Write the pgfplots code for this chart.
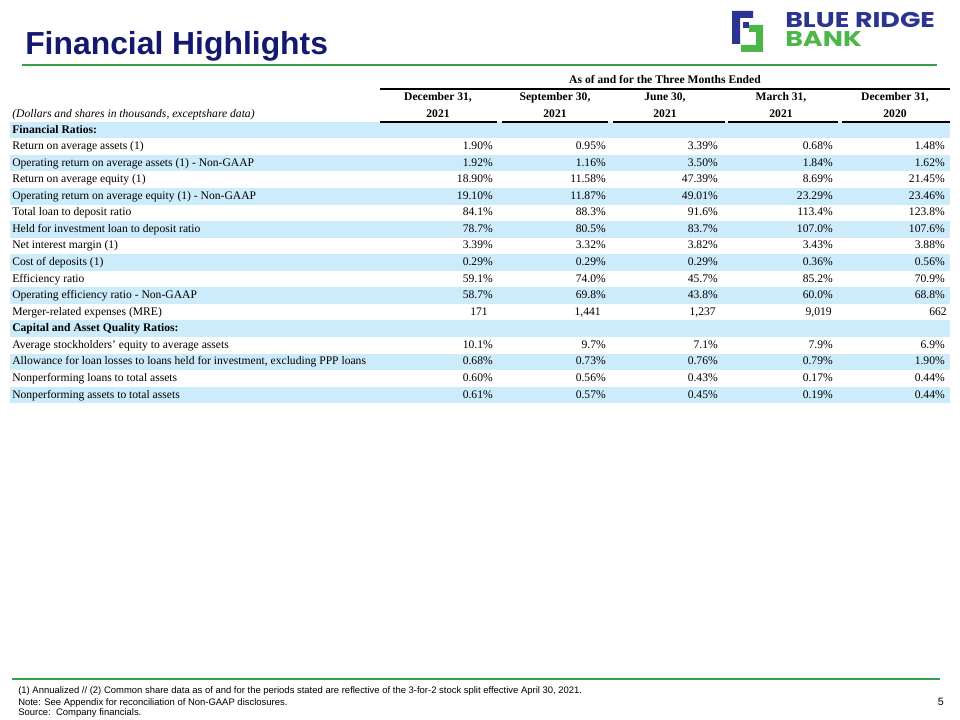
\documentclass[border=0pt]{standalone}
\usepackage{pgfplots}
\pgfplotsset{compat=1.18}
\usepackage{pgfplotstable}
\usepackage{graphicx}
\usepackage{fontspec}
\setmainfont{Liberation Serif}
\newfontfamily\arialfont{Liberation Sans}
\newfontfamily\logofont{Poppins}
\definecolor{band}{RGB}{205,236,251}
\definecolor{titleblue}{RGB}{20,24,110}
\definecolor{lineGreen}{RGB}{52,160,72}
\definecolor{logoblue}{RGB}{44,52,145}
\definecolor{logogreen}{RGB}{77,182,72}
\newcommand\tf{\fontsize{8.7}{9.5}\selectfont}

% Ratios (in percent), rows indexed from the "Financial Ratios:" row = 0
\pgfplotstableread{
r c1 c2 c3 c4 c5
1 1.90 0.95 3.39 0.68 1.48
2 1.92 1.16 3.50 1.84 1.62
3 18.90 11.58 47.39 8.69 21.45
4 19.10 11.87 49.01 23.29 23.46
5 84.1 88.3 91.6 113.4 123.8
6 78.7 80.5 83.7 107.0 107.6
7 3.39 3.32 3.82 3.43 3.88
8 0.29 0.29 0.29 0.36 0.56
9 59.1 74.0 45.7 85.2 70.9
10 58.7 69.8 43.8 60.0 68.8
13 10.1 9.7 7.1 7.9 6.9
14 0.68 0.73 0.76 0.79 1.90
15 0.60 0.56 0.43 0.17 0.44
16 0.61 0.57 0.45 0.19 0.44
}\ratios
% Merger-related expenses (thousands)
\pgfplotstableread{
r c1 c2 c3 c4 c5
11 171 1,441 1,237 9,019 662
}\mre

\begin{document}
\begin{tikzpicture}
\begin{axis}[scale only axis, width=720pt, height=540pt,
  xmin=0, xmax=960, ymin=0, ymax=720, y dir=reverse,
  hide axis, clip=false,
  valstyle/.style={draw=none, mark=none, point meta=explicit symbolic,
    nodes near coords style={anchor=mid east, font=\tf, inner sep=0pt}},
]
\fill[white] (axis cs:0,0) rectangle (axis cs:960,720);
% bands
\pgfplotsinvokeforeach{0,2,4,6,8,10,12,14,16}{
  \fill[band] (axis cs:10,{130+16.56*#1-8.28}) rectangle (axis cs:950,{130+16.56*#1+8.28});
}
% title
\node[anchor=base west, inner sep=0pt, font=\arialfont\bfseries\fontsize{23.9}{26}\selectfont, text=titleblue] at (axis cs:25,55) {Financial Highlights};
\draw[lineGreen, line width=2.2pt] (axis cs:22,65) -- (axis cs:937,65);
% logo
\fill[logoblue] (axis cs:732,11) -- (axis cs:753,11) -- (axis cs:753,18) -- (axis cs:740,18) -- (axis cs:740,44) -- (axis cs:732,44) -- cycle;
\fill[logoblue] (axis cs:743,22) -- (axis cs:749,22) -- (axis cs:749,28) -- (axis cs:743,28) -- cycle;
\fill[logogreen] (axis cs:749,25) -- (axis cs:763,25) -- (axis cs:763,52) -- (axis cs:741,52) -- (axis cs:741,45) -- (axis cs:756,45) -- (axis cs:756,32) -- (axis cs:749,32) -- cycle;
\node[anchor=base west, inner sep=0pt, text=logoblue] at (axis cs:785,27.5) {\scalebox{1.26}[1]{\logofont\bfseries\fontsize{16}{16}\selectfont BLUE RIDGE}};
\node[anchor=base west, inner sep=0pt, text=logogreen] at (axis cs:785,46.5) {\scalebox{1.26}[1]{\logofont\bfseries\fontsize{16}{16}\selectfont BANK}};
% header
\node[anchor=mid, inner sep=0pt, font=\tf\bfseries] at (axis cs:665,80) {As of and for the Three Months Ended};
\draw[line width=1.2pt] (axis cs:380,89) -- (axis cs:950,89);
\node[anchor=mid, inner sep=0pt, font=\tf\bfseries] at (axis cs:438,97) {December 31,};
\node[anchor=mid, inner sep=0pt, font=\tf\bfseries] at (axis cs:555,97) {September 30,};
\node[anchor=mid, inner sep=0pt, font=\tf\bfseries] at (axis cs:665,97) {June 30,};
\node[anchor=mid, inner sep=0pt, font=\tf\bfseries] at (axis cs:781,97) {March 31,};
\node[anchor=mid, inner sep=0pt, font=\tf\bfseries] at (axis cs:895,97) {December 31,};
\node[anchor=mid, inner sep=0pt, font=\tf\bfseries] at (axis cs:438,114) {2021};
\node[anchor=mid, inner sep=0pt, font=\tf\bfseries] at (axis cs:555,114) {2021};
\node[anchor=mid, inner sep=0pt, font=\tf\bfseries] at (axis cs:665,114) {2021};
\node[anchor=mid, inner sep=0pt, font=\tf\bfseries] at (axis cs:781,114) {2021};
\node[anchor=mid, inner sep=0pt, font=\tf\bfseries] at (axis cs:895,114) {2020};
\node[anchor=mid west, inner sep=0pt, font=\tf\itshape] at (axis cs:12,114) {(Dollars and shares in thousands, exceptshare data)};
\draw[line width=1.4pt] (axis cs:380,122) -- (axis cs:497,122);
\draw[line width=1.4pt] (axis cs:502,122) -- (axis cs:608,122);
\draw[line width=1.4pt] (axis cs:613,122) -- (axis cs:725,122);
\draw[line width=1.4pt] (axis cs:728,122) -- (axis cs:838,122);
\draw[line width=1.4pt] (axis cs:842,122) -- (axis cs:950,122);
% row labels
\def\rowlab#1#2{\node[anchor=mid west, inner sep=0pt, font=\tf] at (axis cs:12,{130+16.56*#1}) {#2};}
\node[anchor=mid west, inner sep=0pt, font=\tf\bfseries] at (axis cs:12,130) {Financial Ratios:};
\rowlab{1}{Return on average assets (1)}
\rowlab{2}{Operating return on average assets (1) - Non-GAAP}
\rowlab{3}{Return on average equity (1)}
\rowlab{4}{Operating return on average equity (1) - Non-GAAP}
\rowlab{5}{Total loan to deposit ratio}
\rowlab{6}{Held for investment loan to deposit ratio}
\rowlab{7}{Net interest margin (1)}
\rowlab{8}{Cost of deposits (1)}
\rowlab{9}{Efficiency ratio}
\rowlab{10}{Operating efficiency ratio - Non-GAAP}
\rowlab{11}{Merger-related expenses (MRE)}
\node[anchor=mid west, inner sep=0pt, font=\tf\bfseries] at (axis cs:12,{130+16.56*12}) {Capital and Asset Quality Ratios:};
\rowlab{13}{Average stockholders' equity to average assets}
\rowlab{14}{Allowance for loan losses to loans held for investment, excluding PPP loans}
\rowlab{15}{Nonperforming loans to total assets}
\rowlab{16}{Nonperforming assets to total assets}
% values
\addplot[valstyle, nodes near coords={\pgfplotspointmeta\%}] table[x expr=493, y expr={130+16.56*\thisrow{r}}, meta=c1] {\ratios};
\addplot[valstyle, nodes near coords={\pgfplotspointmeta\%}] table[x expr=606, y expr={130+16.56*\thisrow{r}}, meta=c2] {\ratios};
\addplot[valstyle, nodes near coords={\pgfplotspointmeta\%}] table[x expr=718, y expr={130+16.56*\thisrow{r}}, meta=c3] {\ratios};
\addplot[valstyle, nodes near coords={\pgfplotspointmeta\%}] table[x expr=833, y expr={130+16.56*\thisrow{r}}, meta=c4] {\ratios};
\addplot[valstyle, nodes near coords={\pgfplotspointmeta\%}] table[x expr=945, y expr={130+16.56*\thisrow{r}}, meta=c5] {\ratios};
\addplot[valstyle, nodes near coords={\pgfplotspointmeta}] table[x expr=488, y expr={130+16.56*\thisrow{r}}, meta=c1] {\mre};
\addplot[valstyle, nodes near coords={\pgfplotspointmeta}] table[x expr=601, y expr={130+16.56*\thisrow{r}}, meta=c2] {\mre};
\addplot[valstyle, nodes near coords={\pgfplotspointmeta}] table[x expr=716, y expr={130+16.56*\thisrow{r}}, meta=c3] {\mre};
\addplot[valstyle, nodes near coords={\pgfplotspointmeta}] table[x expr=832, y expr={130+16.56*\thisrow{r}}, meta=c4] {\mre};
\addplot[valstyle, nodes near coords={\pgfplotspointmeta}] table[x expr=947, y expr={130+16.56*\thisrow{r}}, meta=c5] {\mre};
% footer
\draw[lineGreen, line width=2pt] (axis cs:12,679) -- (axis cs:940,679);
\node[anchor=mid west, inner sep=0pt, font=\arialfont\fontsize{7.1}{8}\selectfont] at (axis cs:18,690.5) {(1) Annualized // (2) Common share data as of and for the periods stated are reflective of the 3-for-2 stock split effective April 30, 2021.};
\node[anchor=mid west, inner sep=0pt, font=\arialfont\fontsize{7.1}{8}\selectfont] at (axis cs:18,702) {Note: See Appendix for reconciliation of Non-GAAP disclosures.};
\node[anchor=mid west, inner sep=0pt, font=\arialfont\fontsize{7.1}{8}\selectfont] at (axis cs:18,712.5) {Source:\ \ Company financials.};
\node[anchor=mid east, inner sep=0pt, font=\arialfont\fontsize{8}{9}\selectfont] at (axis cs:944,702) {5};
\end{axis}
\end{tikzpicture}
\end{document}
